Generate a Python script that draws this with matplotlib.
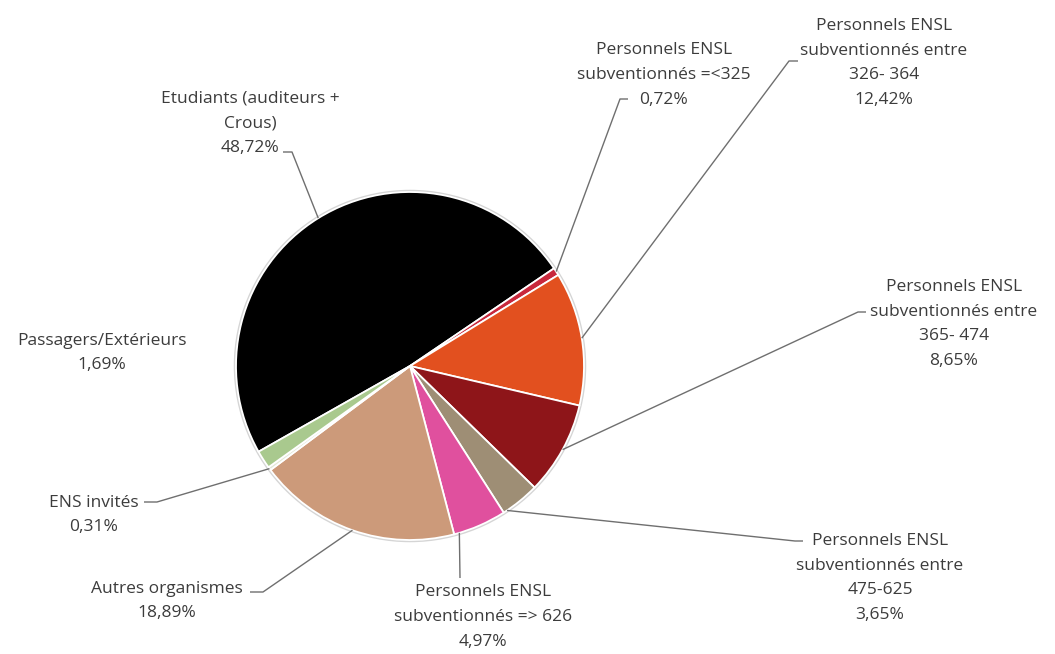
import matplotlib
matplotlib.use("Agg")
import matplotlib.pyplot as plt
import numpy as np

# ---- data ----
categories = [
    "Etudiants (auditeurs +\nCrous)",
    "Personnels ENSL\nsubventionnés =<325",
    "Personnels ENSL\nsubventionnés entre\n326- 364",
    "Personnels ENSL\nsubventionnés entre\n365- 474",
    "Personnels ENSL\nsubventionnés entre\n475-625",
    "Personnels ENSL\nsubventionnés => 626",
    "Autres organismes",
    "ENS invités",
    "Passagers/Extérieurs",
]
values = [48.72, 0.72, 12.42, 8.65, 3.65, 4.97, 18.89, 0.31, 1.69]
pct_labels = ["48,72%", "0,72%", "12,42%", "8,65%", "3,65%", "4,97%", "18,89%", "0,31%", "1,69%"]
colors = ["#000000", "#C8283C", "#E2501F", "#8E1519", "#9E8E75",
          "#E0509E", "#CC9A7A", "#E4E8D8", "#A9C98E"]

W, H = 1055, 654
fig = plt.figure(figsize=(W / 100, H / 100), dpi=100)
ax = fig.add_axes([0, 0, 1, 1])

cx, cy_px, R = 410, 366, 174
cy = H - cy_px
start = 209.5

wedges, _ = ax.pie(values, colors=colors, startangle=start, counterclock=False,
                   center=(cx, cy), radius=R,
                   wedgeprops=dict(edgecolor="white", linewidth=1.3))
# soft outer rim
ax.add_patch(plt.Circle((cx, cy), R + 1.2, fill=False, edgecolor="#d5d5d5", linewidth=1.5, zorder=0))

ax.set_xlim(0, W)
ax.set_ylim(0, H)
ax.set_aspect("equal")
ax.axis("off")

# ---- label layout (pixel coords, y from top) ----
text_pos = [(250, 123), (664, 75), (884, 63), (954, 324), (880, 578),
            (483, 617), (167, 601), (94, 515), (102, 353)]
# fraction along each wedge where its leader attaches
anchor_frac = [0.5, 0.5, 0.5, 0.5, 0.9, 0.9, 0.5, 0.5, 0.5]
# leader: (elbow point, end point) in pixel coords; None = no leader
leaders = [((292, 152), (283, 152)),
           ((620, 99), (628, 99)),
           ((789, 61), (798, 61)),
           ((858, 312), (866, 312)),
           ((795, 541), (803, 541)),
           ((460, 578), (460, 578)),
           ((263, 592), (250, 592)),
           ((157, 502), (144, 502)),
           None]

txt_color = "#3c3c3c"
line_color = "#6f6f6f"
font = ["Open Sans", "DejaVu Sans"]

for i, (cat, pct) in enumerate(zip(categories, pct_labels)):
    x, y = text_pos[i]
    ax.text(x, H - y, cat + "\n" + pct, ha="center", va="center",
            multialignment="center", fontsize=12.5, color=txt_color,
            family=font, linespacing=1.72)
    if leaders[i] is not None:
        w = wedges[i]
        f = anchor_frac[i]
        ang = np.deg2rad(w.theta1 + (w.theta2 - w.theta1) * (1 - f))
        px = cx + R * np.cos(ang)
        py = cy + R * np.sin(ang)
        (ex, ey), (tx, ty) = leaders[i]
        ax.plot([px, ex, tx], [py, H - ey, H - ty], color=line_color,
                linewidth=1.0, solid_capstyle="butt")

fig.savefig("out.png", dpi=100, facecolor="white")
